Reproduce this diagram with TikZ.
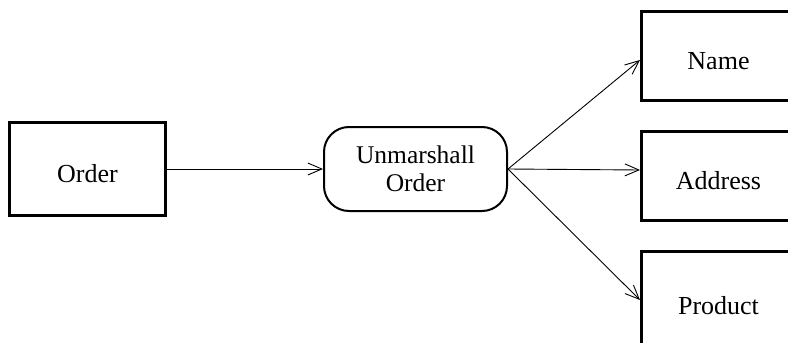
\documentclass[tikz,border=0pt]{standalone}
\usepackage{fontspec}
\setmainfont{Liberation Serif}
\usetikzlibrary{arrows.meta, positioning}

\begin{document}
\begin{tikzpicture}[
    x=1pt, y=-1pt,
    node distance=28pt and 132pt,
    box/.style={draw, line width=3pt, minimum width=156pt, minimum height=93pt, text height=27pt, font=\fontsize{26}{29}\selectfont},
    field/.style={box, minimum width=154pt, minimum height=89pt},
    process/.style={draw, rounded corners=25pt, line width=2pt, minimum width=183pt, minimum height=84pt, align=center, font=\fontsize{25.5}{28.5}\selectfont},
    arrow/.style={-{Straight Barb[length=14pt, width=12pt]}, line width=0.9pt}
]
    \useasboundingbox (0,0) rectangle (788,343);
    \node[box] (order) at (87.5,169) {Order};
    \node[process, right=156pt of order] (unmarshall) {Unmarshall\\Order};
    \node[field, right=132pt of unmarshall, yshift=-7pt] (address) {Address};
    \node[field, above=of address] (name) {Name};
    % cut off by the page edge at the bottom
    \node[field, below=of address, minimum height=99pt] (product) {Product};

    \draw[arrow] (order) -- (unmarshall);
    \draw[arrow] (unmarshall.east) -- ([yshift=-4pt]name.west);
    \draw[arrow] (unmarshall.east) -- ([yshift=6pt]address.west);
    \draw[arrow] (unmarshall.east) -- ([yshift=1pt]product.west);
\end{tikzpicture}
\end{document}
